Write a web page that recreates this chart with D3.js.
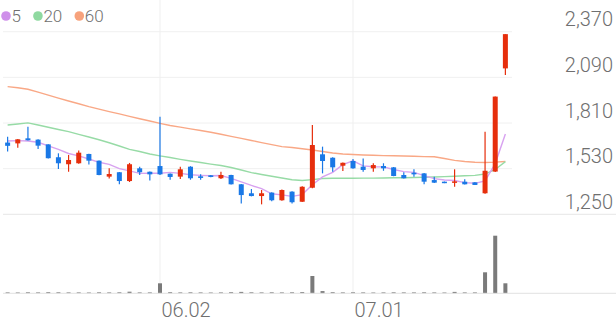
<!DOCTYPE html>
<html>
<head>
<meta charset="utf-8">
<script src="https://cdn.jsdelivr.net/npm/d3@7"></script>
<style>
  html, body { margin: 0; padding: 0; background: #fff; }
  svg { display: block; font-family: Roboto, "Noto Sans", sans-serif; }
</style>
</head>
<body>
<svg id="chart" width="616" height="321"></svg>
<script>
// ---------------- data ----------------
const dates = [
  "05.12","05.13","05.14","05.15","05.16","05.19","05.20","05.21","05.22","05.23",
  "05.26","05.27","05.28","05.29","05.30","06.02","06.04","06.05","06.09","06.10",
  "06.11","06.12","06.13","06.16","06.17","06.18","06.19","06.20","06.23","06.24",
  "06.25","06.26","06.27","06.30","07.01","07.02","07.03","07.04","07.07","07.08",
  "07.09","07.10","07.11","07.14","07.15","07.16","07.17","07.18","07.21","07.22"
];
const openP = [1690,1685,1716,1708,1679,1600,1557,1563,1620,1579,1481,1508,1454,1532,1511,1546,1499,1481,1542,1483,
  1489,1471,1491,1434,1379,1362,1383,1336,1389,1327,1413,1618,1597,1548,1577,1542,1532,1546,1538,1491,
  1505,1501,1460,1450,1444,1450,1446,1379,1512,2145];
const highP = [1725,1712,1787,1710,1680,1624,1614,1642,1622,1580,1532,1510,1565,1542,1513,1849,1500,1542,1545,1495,
  1491,1511,1493,1436,1405,1399,1385,1402,1391,1422,1798,1665,1600,1568,1589,1593,1563,1563,1540,1508,
  1526,1503,1481,1451,1526,1465,1448,1757,1972,2355];
const lowP = [1635,1658,1703,1650,1592,1528,1511,1560,1556,1490,1470,1434,1448,1491,1458,1491,1462,1466,1462,1462,
  1477,1467,1433,1317,1360,1311,1330,1333,1317,1325,1410,1501,1511,1515,1530,1511,1511,1517,1484,1469,
  1481,1434,1442,1441,1419,1433,1429,1376,1510,2105];
const closeP = [1670,1710,1704,1671,1594,1563,1583,1628,1579,1491,1497,1454,1557,1508,1495,1495,1479,1526,1471,1473,
  1479,1491,1434,1368,1362,1379,1336,1399,1324,1419,1675,1577,1538,1566,1532,1522,1552,1532,1485,1471,
  1495,1450,1444,1442,1452,1434,1430,1517,1972,2355];
const volume = [90,80,100,90,110,100,90,90,80,100,90,100,160,90,90,1000,110,90,100,90,
  80,90,110,140,100,90,100,90,100,120,1730,220,110,90,100,90,80,90,100,90,
  90,100,90,80,140,90,90,2100,5760,1000];
const ma5 = [1700,1702,1700,1692,1670,1648,1623,1608,1589,1569,1556,1530,1516,1501,1502,1502,1507,1501,1493,1489,
  1486,1488,1470,1449,1427,1407,1376,1369,1360,1371,1431,1479,1507,1555,1578,1547,1542,1541,1525,1512,
  1507,1487,1469,1460,1457,1444,1440,1455,1561,1742];
const ma20 = [1798,1804,1811,1798,1784,1770,1757,1740,1724,1707,1689,1669,1648,1635,1620,1608,1598,1587,1577,1568,
  1558,1549,1537,1522,1506,1494,1483,1473,1462,1457,1463,1470,1471,1471,1471,1472,1472,1473,1474,1474,
  1476,1477,1479,1481,1483,1486,1489,1497,1525,1573];
const ma60 = [2033,2026,2017,1999,1981,1963,1945,1928,1910,1895,1880,1866,1851,1836,1822,1808,1795,1785,1774,1764,
  1753,1741,1728,1716,1703,1690,1677,1665,1660,1652,1644,1635,1626,1620,1617,1614,1612,1610,1609,1608,
  1606,1604,1603,1592,1581,1574,1569,1568,1570,1574];
const priceTicks = [1250,1530,1810,2090,2370];
const dateTicks = ["06.02","07.01"];
const legendItems = [
  {label:"5", color:"#cf90ea", line:"#d8a2f0", data: ma5},
  {label:"20", color:"#8fd9a0", line:"#97dba6", data: ma20},
  {label:"60", color:"#f7a27c", line:"#f9a886", data: ma60}
];

// ---------------- layout ----------------
const W = 616, H = 321;
const plotL = 0, plotR = 513;
const priceTop = 31.7, priceBot = 214.3;
const volTop = 222.3, volBot = 293.3;
const UP = "#e62e0c", DOWN = "#1a78e6";
const TEXT = "#6f6f6f";

const svg = d3.select("#chart");
svg.append("rect").attr("width", W).attr("height", H).attr("fill", "#fff");

const x = d3.scaleBand().domain(dates).range([plotL, plotR]).padding(0.5);
const xc = d => x(d) + x.bandwidth() / 2;
const y = d3.scaleLinear().domain([1250, 2370]).range([priceBot, priceTop]);
const yv = d3.scaleLinear().domain([0, 7100]).range([volBot, volTop]);

// horizontal grid lines
svg.append("g").selectAll("line").data(priceTicks.filter(t => t !== 1250)).join("line")
  .attr("x1", 3).attr("x2", plotR - 1)
  .attr("y1", d => y(d)).attr("y2", d => y(d))
  .attr("stroke", "#f0f0f0").attr("stroke-width", 1);

// vertical grid lines
svg.append("g").selectAll("line").data(dateTicks).join("line")
  .attr("x1", d => xc(d)).attr("x2", d => xc(d))
  .attr("y1", 0).attr("y2", volBot)
  .attr("stroke", "#efefef").attr("stroke-width", 1);

// price pane bottom line
svg.append("line").attr("x1", 3).attr("x2", W).attr("y1", priceBot).attr("y2", priceBot)
  .attr("stroke", "#e6e6e6").attr("stroke-width", 1);

// right price axis
const yAxis = d3.axisLeft(y).tickValues(priceTicks).tickFormat(d3.format(",")).tickSize(0).tickPadding(0);
const gy = svg.append("g").attr("transform", `translate(${W - 3},0)`).call(yAxis);
gy.select(".domain").remove();
gy.selectAll("text").attr("dy", null).attr("y", -6)
  .attr("fill", TEXT).attr("font-size", 20).attr("font-weight", 300)
  .attr("font-family", "Roboto, sans-serif").attr("text-anchor", "end");

// MA lines
const lineGen = data => d3.line().x((d, i) => xc(dates[i])).y(d => y(d))(data);
svg.append("g").selectAll("path").data(legendItems.slice().reverse()).join("path")
  .attr("d", d => lineGen(d.data))
  .attr("fill", "none").attr("stroke", d => d.line).attr("stroke-width", 1.4);

// candles
const idx = d3.range(dates.length);
const cw = 5;
const cg = svg.append("g");
cg.selectAll("line.wick").data(idx).join("line").attr("class", "wick")
  .attr("x1", i => xc(dates[i])).attr("x2", i => xc(dates[i]))
  .attr("y1", i => y(highP[i])).attr("y2", i => y(lowP[i]))
  .attr("stroke", i => closeP[i] >= openP[i] ? UP : DOWN).attr("stroke-width", 1.2);
cg.selectAll("rect.body").data(idx).join("rect").attr("class", "body")
  .attr("x", i => xc(dates[i]) - cw / 2).attr("width", cw)
  .attr("y", i => y(Math.max(openP[i], closeP[i])))
  .attr("height", i => Math.max(1.5, Math.abs(y(openP[i]) - y(closeP[i]))))
  .attr("fill", i => closeP[i] >= openP[i] ? UP : DOWN);

// volume bars
svg.append("g").selectAll("rect").data(idx).join("rect")
  .attr("x", i => xc(dates[i]) - 2).attr("width", 4)
  .attr("y", i => yv(volume[i]))
  .attr("height", i => volBot - yv(volume[i]))
  .attr("fill", "#7a7a7a");

// x axis
svg.append("line").attr("x1", 3).attr("x2", W).attr("y1", volBot).attr("y2", volBot)
  .attr("stroke", "#e2e2e2").attr("stroke-width", 1);
const xAxis = d3.axisBottom(d3.scalePoint().domain(dates).range([xc(dates[0]), xc(dates[dates.length - 1])]))
  .tickValues(dateTicks).tickSize(0).tickPadding(0);
const gx = svg.append("g").attr("transform", `translate(0,${volBot})`).call(xAxis);
gx.select(".domain").remove();
gx.selectAll("text").attr("dy", null).attr("y", 23.4).attr("x", 1)
  .attr("text-anchor", "start")
  .attr("fill", TEXT).attr("font-size", 20).attr("font-weight", 300)
  .attr("font-family", "Roboto, sans-serif");

// legend
const lg = svg.append("g");
let lx = 6;
legendItems.forEach(item => {
  lg.append("circle").attr("cx", lx).attr("cy", 16).attr("r", 4.8).attr("fill", item.color);
  const t = lg.append("text").attr("x", lx + 5.5).attr("y", 22).text(item.label)
    .attr("fill", TEXT).attr("font-size", 17).attr("font-weight", 300)
    .attr("font-family", "Roboto, sans-serif");
  lx += 5.5 + t.node().getComputedTextLength() + 17;
});
</script>
</body>
</html>
